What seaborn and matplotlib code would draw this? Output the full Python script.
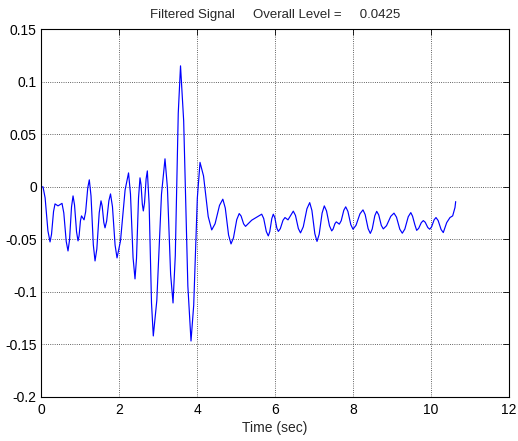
import numpy as np
import pandas as pd
import matplotlib
matplotlib.use("Agg")
import matplotlib.pyplot as plt
import seaborn as sns

# Signal values read (estimated) from the reference picture
time_s = [0.000, 0.051, 0.105, 0.177, 0.231, 0.269, 0.321, 0.359, 0.436, 0.538,
          0.584, 0.646, 0.692, 0.731, 0.782, 0.821, 0.859, 0.911, 0.949, 0.976,
          1.011, 1.038, 1.103, 1.144, 1.198, 1.238, 1.282, 1.341, 1.385, 1.431,
          1.492, 1.538, 1.569, 1.610, 1.641, 1.683, 1.740, 1.782, 1.832, 1.899,
          1.949, 2.038, 2.156, 2.244, 2.294, 2.360, 2.410, 2.448, 2.500, 2.538,
          2.564, 2.598, 2.623, 2.654, 2.695, 2.726, 2.772, 2.833, 2.879, 2.969,
          3.089, 3.179, 3.241, 3.323, 3.385, 3.443, 3.519, 3.577, 3.658, 3.765,
          3.846, 3.915, 4.008, 4.077, 4.167, 4.287, 4.377, 4.463, 4.577, 4.662,
          4.725, 4.809, 4.872, 4.935, 5.019, 5.082, 5.131, 5.195, 5.244, 5.403,
          5.659, 5.710, 5.777, 5.828, 5.866, 5.918, 5.956, 5.995, 6.046, 6.085,
          6.136, 6.205, 6.256, 6.333, 6.469, 6.525, 6.599, 6.654, 6.725, 6.819,
          6.890, 6.946, 7.021, 7.077, 7.133, 7.208, 7.264, 7.321, 7.397, 7.454,
          7.489, 7.537, 7.572, 7.649, 7.698, 7.764, 7.813, 7.869, 7.944, 8.000,
          8.077, 8.179, 8.256, 8.312, 8.388, 8.444, 8.493, 8.559, 8.608, 8.659,
          8.726, 8.777, 8.859, 8.969, 9.051, 9.115, 9.200, 9.264, 9.329, 9.417,
          9.482, 9.527, 9.588, 9.633, 9.684, 9.752, 9.803, 9.852, 9.918, 9.967,
          10.015, 10.080, 10.128, 10.184, 10.259, 10.315, 10.403, 10.487, 10.556, 10.615,
          10.633]
signal = [0.0000, 0.0000, -0.0105, -0.0419, -0.0524, -0.0452, -0.0234, -0.0162, -0.0181, -0.0157,
          -0.0248, -0.0519, -0.0610, -0.0505, -0.0191, -0.0086, -0.0172, -0.0428, -0.0514, -0.0466,
          -0.0323, -0.0276, -0.0314, -0.0238, -0.0010, 0.0067, -0.0087, -0.0551, -0.0705, -0.0591,
          -0.0247, -0.0133, -0.0184, -0.0339, -0.0390, -0.0325, -0.0132, -0.0067, -0.0189, -0.0554,
          -0.0676, -0.0514, -0.0029, 0.0133, -0.0069, -0.0673, -0.0876, -0.0684, -0.0106, 0.0086,
          0.0023, -0.0166, -0.0229, -0.0153, 0.0076, 0.0152, -0.0162, -0.1105, -0.1419, -0.1082,
          -0.0070, 0.0267, -0.0007, -0.0831, -0.1105, -0.0654, 0.0701, 0.1152, 0.0628, -0.0943,
          -0.1467, -0.1127, -0.0107, 0.0233, 0.0104, -0.0282, -0.0410, -0.0351, -0.0176, -0.0117,
          -0.0202, -0.0458, -0.0543, -0.0485, -0.0312, -0.0254, -0.0278, -0.0352, -0.0376, -0.0317,
          -0.0260, -0.0301, -0.0425, -0.0467, -0.0426, -0.0302, -0.0260, -0.0293, -0.0391, -0.0424,
          -0.0398, -0.0318, -0.0292, -0.0314, -0.0231, -0.0272, -0.0397, -0.0438, -0.0380, -0.0208,
          -0.0150, -0.0224, -0.0445, -0.0519, -0.0451, -0.0249, -0.0181, -0.0229, -0.0371, -0.0419,
          -0.0402, -0.0350, -0.0333, -0.0355, -0.0322, -0.0223, -0.0190, -0.0233, -0.0360, -0.0403,
          -0.0366, -0.0256, -0.0219, -0.0264, -0.0398, -0.0443, -0.0401, -0.0275, -0.0233, -0.0266,
          -0.0367, -0.0400, -0.0370, -0.0280, -0.0250, -0.0288, -0.0403, -0.0441, -0.0402, -0.0284,
          -0.0245, -0.0279, -0.0363, -0.0414, -0.0395, -0.0340, -0.0321, -0.0337, -0.0387, -0.0403,
          -0.0381, -0.0314, -0.0292, -0.0321, -0.0406, -0.0435, -0.0340, -0.0292, -0.0276, -0.0197,
          -0.0140]

x_ticks = [0, 2, 4, 6, 8, 10, 12]
y_ticks = [-0.2, -0.15, -0.1, -0.05, 0, 0.05, 0.1, 0.15]
y_tick_labels = ["-0.2", "-0.15", "-0.1", "-0.05", "0", "0.05", "0.1", "0.15"]

sns.set_style("white")
plt.rcParams['font.family'] = ['Liberation Sans', 'DejaVu Sans']

df = pd.DataFrame({"t": time_s, "v": signal})

fig = plt.figure(figsize=(5.18, 4.41), dpi=100)
ax = fig.add_axes([0.0792, 0.0998, 0.9034, 0.8338])
sns.lineplot(data=df, x="t", y="v", color="#0000ff", linewidth=0.85, ax=ax, sort=False)

ax.set_xlim(0, 12)
ax.set_ylim(-0.2, 0.15)
ax.set_xticks(x_ticks)
ax.set_yticks(y_ticks)
ax.set_yticklabels(y_tick_labels)
ax.grid(True, linestyle=":", color="#303030", linewidth=0.6)
ax.tick_params(direction="in", length=4, width=0.6, top=True, right=True,
               labelsize=10, colors="black")
ax.tick_params(axis="y", pad=3)
ax.tick_params(axis="x", pad=4)
for s in ax.spines.values():
    s.set_color("black")
    s.set_linewidth(0.8)
ax.set_xlabel("Time (sec)", fontsize=10, labelpad=3)
ax.set_ylabel("")
ax.set_title("Filtered Signal     Overall Level =     0.0425", fontsize=9.5, pad=8)

fig.savefig("out.png", dpi=100)
